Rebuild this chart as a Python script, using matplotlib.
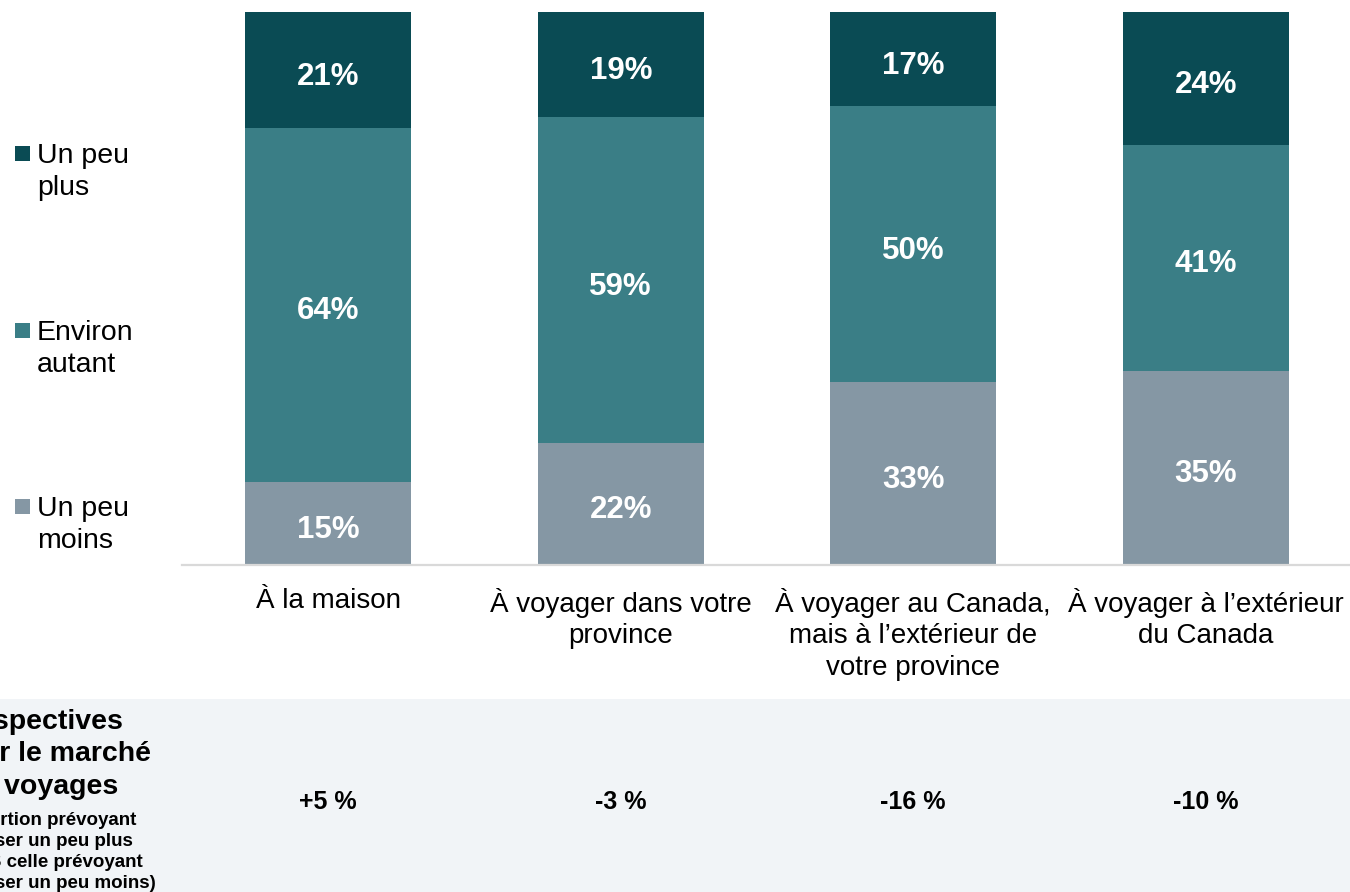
import matplotlib.pyplot as plt
from matplotlib.patches import Rectangle
import numpy as np

plt.rcParams['font.family'] = ['Liberation Sans', 'DejaVu Sans']

# data
categories = ["À la maison",
              "À voyager dans votre\nprovince",
              "À voyager au Canada,\nmais à l’extérieur de\nvotre province",
              "À voyager à l’extérieur\ndu Canada"]
moins = [15, 22, 33, 35]
autant = [64, 59, 50, 41]
plus = [21, 19, 17, 24]
series_names = ["Un peu\nmoins", "Environ\nautant", "Un peu\nplus"]
outlook = ["+5 %", "-3 %", "-16 %", "-10 %"]

colors = ['#8597a4', '#3a7e86', '#0a4b54']

W, H = 1350, 892
fig = plt.figure(figsize=(W / 100, H / 100), dpi=100)

# bottom panel background
fig.patches.append(Rectangle((0, 0), 1, (H - 699) / H, transform=fig.transFigure,
                             facecolor='#f1f4f7', edgecolor='none', zorder=0))

ax = fig.add_axes([182 / W, (H - 564.5) / H, 1170 / W, 552.5 / H])
x = np.arange(len(categories))
bottom = np.zeros(len(categories))
for vals, col in zip([moins, autant, plus], colors):
    ax.bar(x, vals, width=0.567, bottom=bottom, color=col, zorder=2)
    for xi, b, v in zip(x, bottom, vals):
        ax.text(xi, b + v / 2 - 1.2, f"{v}%", ha='center', va='center',
                color='white', fontsize=22.5, fontweight='bold', zorder=3)
    bottom += np.array(vals)

ax.set_xlim(-0.5, 3.5)
ax.set_ylim(0, 100)
ax.set_yticks([])
ax.set_xticks(x)
ax.set_xticklabels(categories, fontsize=20, linespacing=1.26)
ax.tick_params(axis='x', length=0, pad=17)
for s in ['top', 'right', 'left']:
    ax.spines[s].set_visible(False)
ax.spines['bottom'].set_color('#d9d9d9')
ax.spines['bottom'].set_linewidth(1.6)

# legend drawn by hand: square centre on first line, text placed by last baseline
sq_y = {2: 153, 1: 330, 0: 506}
for i, name in enumerate(series_names):
    yc = sq_y[i]
    fig.patches.append(Rectangle((15 / W, (H - yc - 7.5) / H), 15 / W, 15 / H,
                                 transform=fig.transFigure, facecolor=colors[i],
                                 edgecolor='none'))
    fig.text(37 / W, (H - yc - 42) / H, name, fontsize=20.5, va='baseline',
             ha='left', linespacing=1.28)

# bottom panel texts (partly off the left edge, as in the original)
fig.text(-53 / W, (H - 794) / H, "Perspectives\npour le marché\ndes voyages",
         fontsize=20.5, fontweight='bold', va='baseline', ha='left', linespacing=1.33)
fig.text(-60 / W, (H - 888) / H,
         "(Proportion prévoyant\ndépenser un peu plus\nMOINS celle prévoyant\ndépenser un peu moins)",
         fontsize=13.5, fontweight='bold', va='baseline', ha='left', linespacing=1.3)

for xi, lab in zip(x, outlook):
    xf = ax.transData.transform((xi, 0))[0] / W
    fig.text(xf, (H - 802) / H, lab, fontsize=18, fontweight='bold',
             ha='center', va='center')

fig.savefig('out.png', dpi=100)
